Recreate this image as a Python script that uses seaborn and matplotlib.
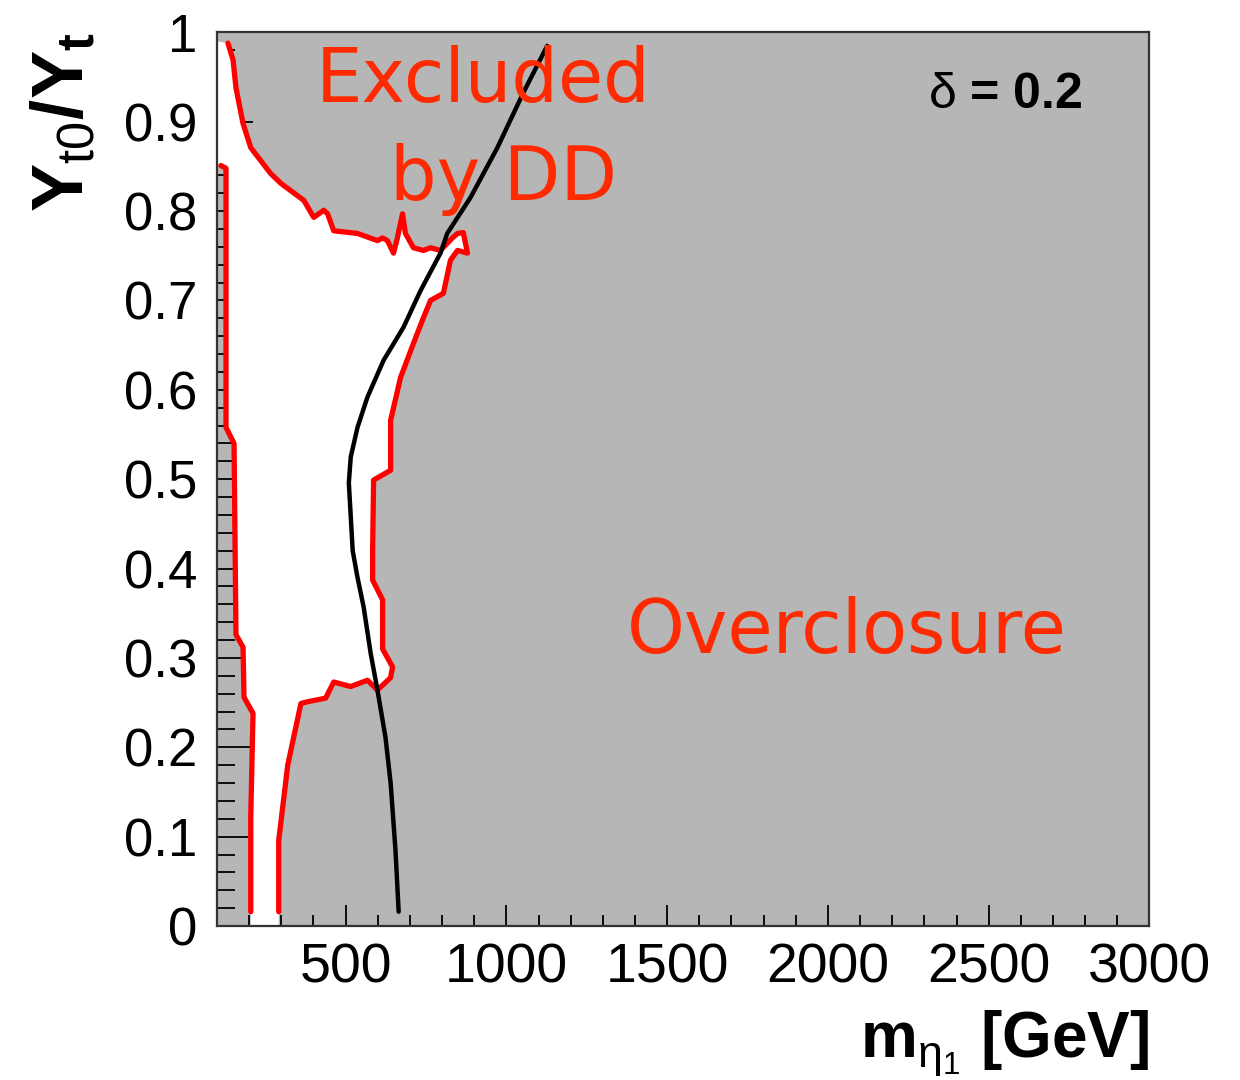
import numpy as np
import pandas as pd
import matplotlib
matplotlib.use('Agg')
import matplotlib.pyplot as plt
import seaborn as sns

# allowed (white) region: m in GeV, y = Y_t0/Y_t
# upper red boundary (edge of the DD excluded region), left to right
dd_m = [134, 150, 159, 181, 205, 267, 299, 370, 401, 432, 444, 463, 537, 599, 615,
        630, 649, 661, 677, 686, 711, 742, 764, 795, 832, 848, 866]
dd_y = [0.988, 0.969, 0.938, 0.898, 0.871, 0.842, 0.831, 0.812, 0.793, 0.801, 0.797,
        0.778, 0.775, 0.767, 0.770, 0.767, 0.753, 0.770, 0.797, 0.775, 0.759, 0.756,
        0.759, 0.756, 0.770, 0.775, 0.776]

# right red boundary (overclosure edge), top to bottom
oc_m = [879, 848, 826, 804, 764, 739, 711, 671, 640, 640, 587, 584, 584, 615, 615,
        646, 640, 599, 568, 516, 463, 438, 382, 361, 330, 320, 292, 292]
oc_y = [0.753, 0.756, 0.745, 0.708, 0.700, 0.678, 0.652, 0.614, 0.566, 0.510, 0.499,
        0.420, 0.387, 0.365, 0.310, 0.290, 0.278, 0.264, 0.275, 0.268, 0.273, 0.255,
        0.251, 0.249, 0.197, 0.180, 0.096, 0.016]

# left red boundary, bottom to top
left_m = [205, 205, 212, 184, 181, 159, 153, 128, 128, 112]
left_y = [0.016, 0.122, 0.238, 0.256, 0.312, 0.326, 0.540, 0.558, 0.848, 0.851]

# black relic-density curve, bottom to top
relic_m = [665, 655, 640, 624, 599, 578, 556, 537, 522, 510, 516, 537, 568, 618,
           680, 733, 795, 816, 888, 972, 1052, 1127]
relic_y = [0.016, 0.085, 0.160, 0.211, 0.264, 0.305, 0.357, 0.390, 0.420, 0.496,
           0.525, 0.558, 0.592, 0.633, 0.670, 0.711, 0.753, 0.775, 0.815, 0.871,
           0.932, 0.985]

x_ticks = [500, 1000, 1500, 2000, 2500, 3000]
y_ticks = [0, 0.1, 0.2, 0.3, 0.4, 0.5, 0.6, 0.7, 0.8, 0.9, 1]
y_tick_labels = ['0', '0.1', '0.2', '0.3', '0.4', '0.5', '0.6', '0.7', '0.8', '0.9', '1']

sns.set_style('ticks')
plt.rcParams['font.family'] = ['Liberation Sans', 'DejaVu Sans']
plt.rcParams['mathtext.fontset'] = 'custom'
plt.rcParams['mathtext.rm'] = 'Liberation Sans'
plt.rcParams['mathtext.it'] = 'Liberation Sans'
plt.rcParams['mathtext.bf'] = 'Liberation Sans:bold'
plt.rcParams['text.color'] = 'black'
plt.rcParams['axes.labelcolor'] = 'black'
plt.rcParams['xtick.color'] = 'black'
plt.rcParams['ytick.color'] = 'black'

fig = plt.figure(figsize=(12.4, 10.8), dpi=100)
ax = fig.add_axes([0.175, 0.1426, 0.752, 0.8274])
ax.set_xlim(100, 3000)
ax.set_ylim(0, 1)
ax.set_facecolor('#b6b6b6')

# white allowed polygon
poly_m = [100, 100] + dd_m + oc_m + [292, 205] + left_m + [100]
poly_y = [0.851, 0.99] + dd_y + oc_y + [0.0, 0.0] + left_y + [0.851]
ax.fill(poly_m, poly_y, color='white', lw=0, zorder=1)

red = '#ff0000'
top_df = pd.DataFrame({'m': dd_m + oc_m, 'y': dd_y + oc_y})
sns.lineplot(data=top_df, x='m', y='y', sort=False, estimator=None, color=red,
             lw=3.8, ax=ax, zorder=3)
left_df = pd.DataFrame({'m': left_m, 'y': left_y})
sns.lineplot(data=left_df, x='m', y='y', sort=False, estimator=None, color=red,
             lw=3.8, ax=ax, zorder=3)
relic_df = pd.DataFrame({'m': relic_m, 'y': relic_y})
sns.lineplot(data=relic_df, x='m', y='y', sort=False, estimator=None, color='black',
             lw=3.2, ax=ax, zorder=4)

# ticks, ROOT style
ax.set_xticks(x_ticks)
ax.set_xticks(np.arange(100, 3001, 100), minor=True)
ax.set_yticks(y_ticks)
ax.set_yticklabels(y_tick_labels)
ax.set_yticks(np.arange(0, 1.001, 0.02), minor=True)
ax.tick_params(axis='y', which='major', direction='in', length=26, width=1.3,
               labelsize=38, pad=14)
ax.tick_params(axis='y', which='minor', direction='in', length=13, width=1.3)
ax.tick_params(axis='x', which='major', direction='in', length=15, width=1.3,
               labelsize=40, pad=12)
ax.tick_params(axis='x', which='minor', direction='in', length=8, width=1.3)
for sp in ax.spines.values():
    sp.set_linewidth(1.6)
    sp.set_color('#333333')
    sp.set_zorder(6)

ax.set_xlabel(r'$\mathbf{m}_{\eta_{1}}$ [GeV]', fontsize=46, fontweight='bold')
ax.xaxis.set_label_coords(1.0, -0.093)
ax.xaxis.label.set_horizontalalignment('right')
ax.set_ylabel(r'$\mathbf{Y}_{\mathrm{t0}}\mathbf{/Y}_{\mathbf{t}}$', fontsize=52)
ax.yaxis.set_label_coords(-0.128, 1.0)
ax.yaxis.label.set_horizontalalignment('right')

orange = '#ff2a00'
ax.text(0.106, 0.922, 'Excluded', transform=ax.transAxes, fontsize=53, color=orange,
        family='DejaVu Sans', va='baseline', ha='left', zorder=5)
ax.text(0.186, 0.812, 'by DD', transform=ax.transAxes, fontsize=53, color=orange,
        family='DejaVu Sans', va='baseline', ha='left', zorder=5)
ax.text(0.44, 0.305, 'Overclosure', transform=ax.transAxes, fontsize=53, color=orange,
        family='DejaVu Sans', va='baseline', ha='left', zorder=5)
ax.text(0.928, 0.915, r'$\delta$ = 0.2', transform=ax.transAxes, fontsize=36,
        fontweight='bold', color='black', va='baseline', ha='right', zorder=5)

fig.savefig('out.png', dpi=100)
